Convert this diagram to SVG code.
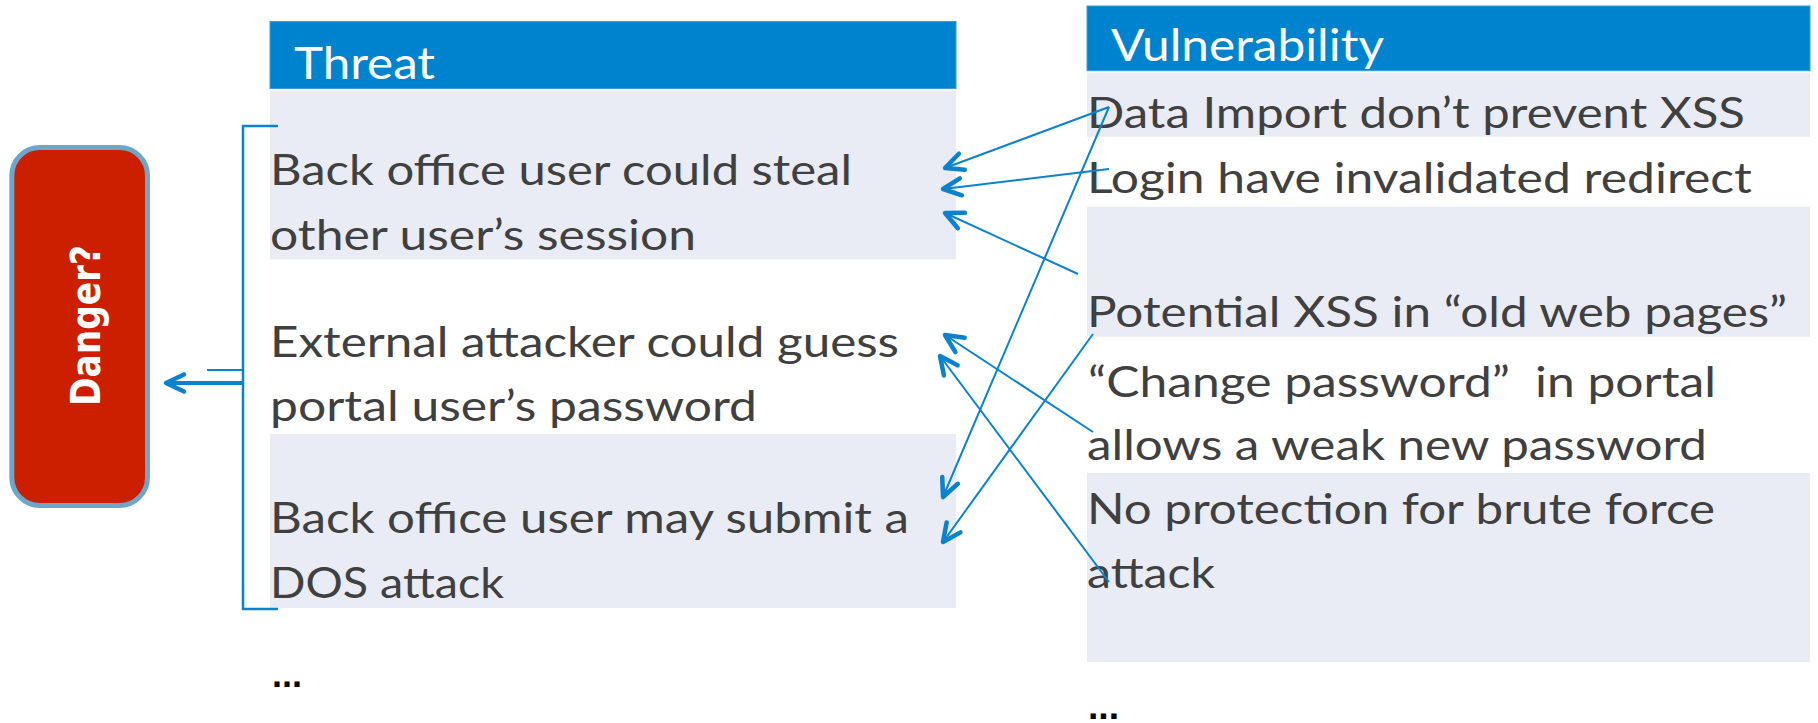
<svg xmlns="http://www.w3.org/2000/svg" width="1818" height="723" viewBox="0 0 1818 723">
  <style>
    .hdr { fill: #0083CE; stroke: #3C9BD8; stroke-width: 1; }
    .row { fill: #E9ECF5; }
    .hdr-t { font-family: Lato, "Open Sans", "Liberation Sans", sans-serif; font-size: 44px; fill: #FFFFFF; }
    .txt { font-family: Lato, "Open Sans", "Liberation Sans", sans-serif; font-size: 43px; fill: #404040; }
    .more { font-family: "Liberation Sans", sans-serif; font-size: 36px; font-weight: bold; fill: #000000; }
    .link { fill: none; stroke: #0A82CF; stroke-width: 2; marker-end: url(#arrow); }
    .bracket { fill: none; stroke: #0A82CF; stroke-width: 2.5; }
  </style>
  <defs>
    <marker id="arrow" markerUnits="userSpaceOnUse" markerWidth="30" markerHeight="30" viewBox="-22 -15 30 30" refX="0" refY="0" orient="auto" overflow="visible">
      <path d="M-18,-8.5 L0,0 L-18,8.5" fill="none" stroke="#0A82CF" stroke-width="4.5" stroke-linecap="round" stroke-linejoin="round"/>
    </marker>
  </defs>

  <rect width="1818" height="723" fill="#FFFFFF"/>

  <!-- Danger box -->
  <g id="danger">
    <rect x="11.8" y="147.5" width="135.7" height="358" rx="28" ry="28" fill="#CC1F00" stroke="#6EA6CB" stroke-width="5"/>
    <text transform="translate(100,325.5) rotate(-90)" text-anchor="middle" font-family="'DejaVu Sans', Verdana, sans-serif" font-weight="bold" font-size="40" fill="#FFFFFF" textLength="161" lengthAdjust="spacingAndGlyphs">Danger?</text>
  </g>

  <!-- Threat column -->
  <g id="threat-header">
    <rect class="hdr" x="270" y="21.5" width="686" height="67"/>
    <text class="hdr-t" x="294" y="79" textLength="141" lengthAdjust="spacingAndGlyphs">Threat</text>
  </g>
  <g id="threat-1">
    <rect class="row" x="270" y="90.7" width="686" height="168.6"/>
    <text class="txt" x="270" y="185" textLength="582" lengthAdjust="spacingAndGlyphs">Back office user could steal</text>
    <text class="txt" x="270" y="250" textLength="426" lengthAdjust="spacingAndGlyphs">other user’s session</text>
  </g>
  <g id="threat-2">
    <text class="txt" x="270" y="356.7" textLength="629" lengthAdjust="spacingAndGlyphs">External attacker could guess</text>
    <text class="txt" x="270" y="421" textLength="487" lengthAdjust="spacingAndGlyphs">portal user’s password</text>
  </g>
  <g id="threat-3">
    <rect class="row" x="270" y="434" width="686" height="174"/>
    <text class="txt" x="270" y="533.3" textLength="639" lengthAdjust="spacingAndGlyphs">Back office user may submit a</text>
    <text class="txt" x="270" y="598.3" textLength="234" lengthAdjust="spacingAndGlyphs">DOS attack</text>
  </g>
  <g id="threat-more">
    <text class="more" x="272" y="687" textLength="30" lengthAdjust="spacingAndGlyphs">...</text>
  </g>

  <!-- Vulnerability column -->
  <g id="vuln-header">
    <rect class="hdr" x="1087" y="6" width="723" height="64.7"/>
    <text class="hdr-t" x="1111" y="61" textLength="273" lengthAdjust="spacingAndGlyphs">Vulnerability</text>
  </g>
  <g id="vuln-1">
    <rect class="row" x="1087" y="72.7" width="723" height="64"/>
    <text class="txt" x="1087" y="127.7" textLength="658" lengthAdjust="spacingAndGlyphs">Data Import don’t prevent XSS</text>
  </g>
  <g id="vuln-2">
    <text class="txt" x="1087" y="193" textLength="665" lengthAdjust="spacingAndGlyphs">Login have invalidated redirect</text>
  </g>
  <g id="vuln-3">
    <rect class="row" x="1087" y="206.7" width="723" height="130"/>
    <text class="txt" x="1087" y="326.7" textLength="700" lengthAdjust="spacingAndGlyphs">Potential XSS in “old web pages”</text>
  </g>
  <g id="vuln-4">
    <text class="txt" x="1088" y="396.7" textLength="628" lengthAdjust="spacingAndGlyphs" xml:space="preserve">“Change password”  in portal</text>
    <text class="txt" x="1087" y="460" textLength="620" lengthAdjust="spacingAndGlyphs">allows a weak new password</text>
  </g>
  <g id="vuln-5">
    <rect class="row" x="1087" y="473" width="723" height="189"/>
    <text class="txt" x="1087" y="524.3" textLength="628" lengthAdjust="spacingAndGlyphs">No protection for brute force</text>
    <text class="txt" x="1087" y="588.3" textLength="128" lengthAdjust="spacingAndGlyphs">attack</text>
  </g>
  <g id="vuln-more">
    <text class="more" x="1088" y="719" textLength="31" lengthAdjust="spacingAndGlyphs">...</text>
  </g>

  <!-- Connectors -->
  <g id="connectors">
    <!-- threats grouped into the danger rating -->
    <path class="bracket" d="M278,126 H243 V609 H278"/>
    <path d="M207,370 H243" fill="none" stroke="#0A82CF" stroke-width="2"/>
    <path d="M243,383 H166" fill="none" stroke="#0A82CF" stroke-width="4" marker-end="url(#arrow)"/>
    <!-- vulnerability to threat links -->
    <path class="link" d="M1109,107 L945,168"/>
    <path class="link" d="M1109,169 L943,189"/>
    <path class="link" d="M1078,274 L945,213"/>
    <path class="link" d="M1109,107 L943,497"/>
    <path class="link" d="M1093,334 L943,542"/>
    <path class="link" d="M1093,432 L945,335"/>
    <path class="link" d="M1109,582 L940,356"/>
  </g>
</svg>
